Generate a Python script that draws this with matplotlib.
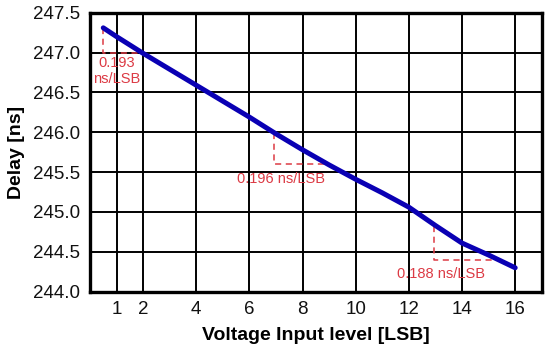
import matplotlib
matplotlib.use("Agg")
import matplotlib.pyplot as plt

plt.rcParams['font.family'] = ['Liberation Sans', 'DejaVu Sans']

# Data
level = [0.5, 1, 2, 3, 4, 5, 6, 7, 8, 9, 10, 11, 12, 13, 14, 15, 16]
delay = [247.31, 247.20, 246.99, 246.79, 246.59, 246.39, 246.19, 245.98,
         245.78, 245.59, 245.41, 245.24, 245.06, 244.83, 244.61, 244.46, 244.30]

x_ticks = [1, 2, 4, 6, 8, 10, 12, 14, 16]
y_ticks = [244.0, 244.5, 245.0, 245.5, 246.0, 246.5, 247.0, 247.5]

# slope annotations
ann_x0 = [0.5, 6.92, 12.93]
ann_y0 = [247.31, 245.99, 244.82]
ann_x1 = [1.85, 8.98, 15.18]
ann_y1 = [247.0, 245.60, 244.40]
ann_text = ["0.193\nns/LSB", "0.196 ns/LSB", "0.188 ns/LSB"]
ann_tx = [1.0, 7.2, 13.2]
ann_ty = [246.77, 245.41, 244.22]

red = '#dc3a44'

fig = plt.figure(figsize=(5.5, 3.47), dpi=100)
ax = fig.add_axes([0.1636, 0.1594, 0.985 - 0.1636, 0.9634 - 0.1594])

ax.set_xlim(0, 17)
ax.set_ylim(244.0, 247.5)
ax.set_xticks(x_ticks)
ax.set_yticks(y_ticks)
ax.set_yticklabels([f"{v:.1f}" for v in y_ticks])
ax.grid(True, color='black', linewidth=1.4)
ax.set_axisbelow(True)
for s in ax.spines.values():
    s.set_linewidth(2.4)
    s.set_color('black')
ax.tick_params(length=0, labelsize=13.5, pad=7, colors='#111111')

for x0, y0, x1, y1, t, tx, ty in zip(ann_x0, ann_y0, ann_x1, ann_y1, ann_text, ann_tx, ann_ty):
    ax.plot([x0, x0, x1], [y0, y1, y1], color=red, linestyle=(0, (4, 3)), linewidth=1.1, zorder=3)
    ax.text(tx, ty, t, color=red, fontsize=10.5, ha='center', va='center',
            linespacing=1.25, zorder=4)

ax.plot(level, delay, color='#0a00b4', linewidth=3.6, solid_capstyle='round', zorder=5)

ax.set_xlabel("Voltage Input level [LSB]", fontsize=14, fontweight='bold', labelpad=6)
ax.set_ylabel("Delay [ns]", fontsize=14, fontweight='bold', labelpad=6)

fig.savefig("out.png", dpi=100)
